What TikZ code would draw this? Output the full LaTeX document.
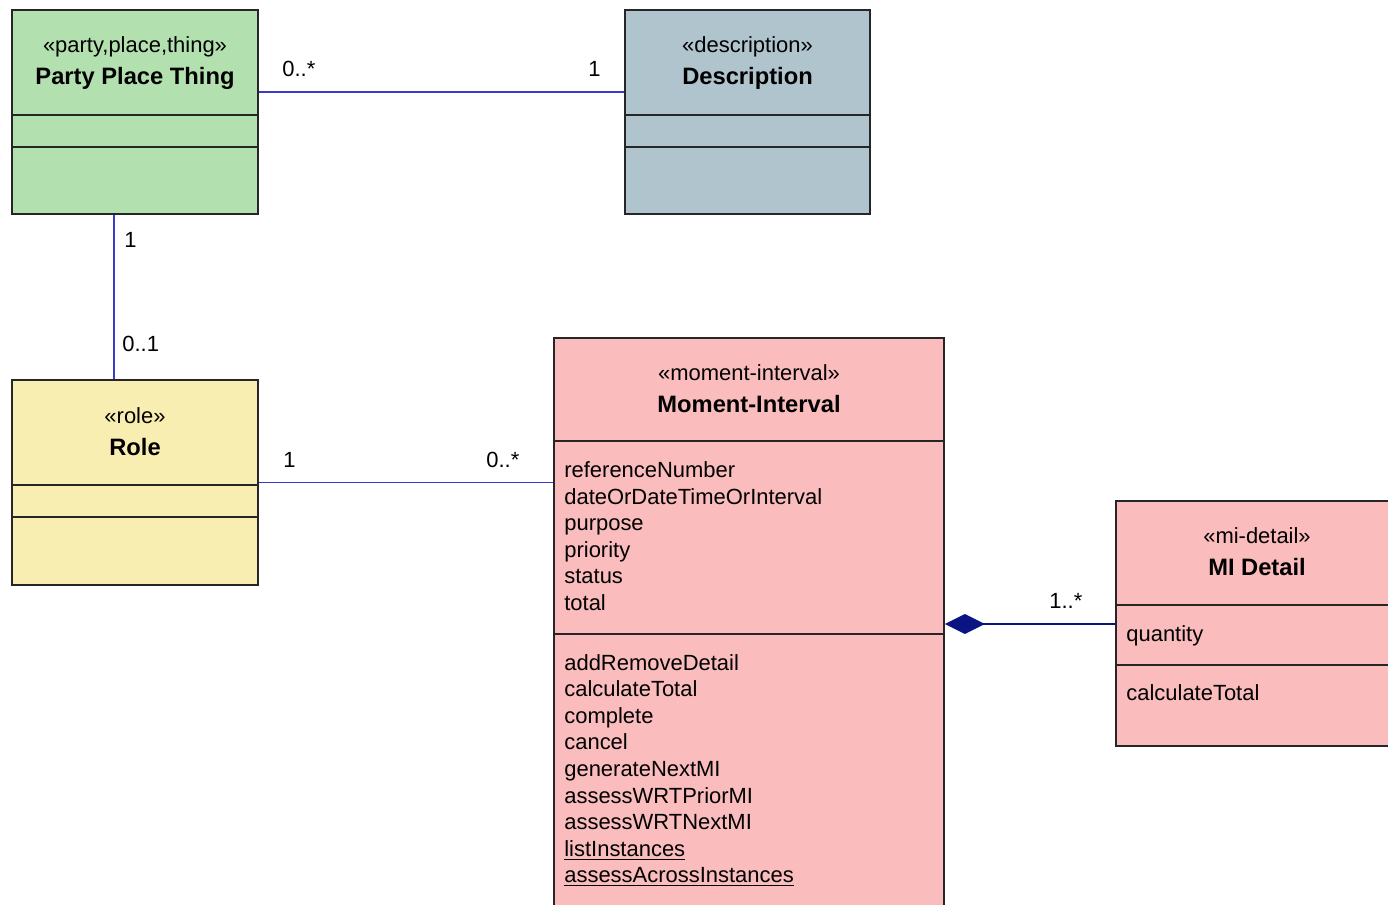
\documentclass[tikz,border=0pt]{standalone}
\usepackage{fontspec}
\setmainfont{Liberation Sans}
\usepackage{xcolor}
\usetikzlibrary{arrows.meta,positioning}
\definecolor{pptgreen}{RGB}{178,224,174}
\definecolor{descblue}{RGB}{176,196,205}
\definecolor{roleyellow}{RGB}{249,238,178}
\definecolor{mipink}{RGB}{250,188,188}
\definecolor{assocblue}{RGB}{58,58,205}
\definecolor{compnavy}{RGB}{10,20,130}

\begin{document}
\begin{tikzpicture}[x=0.02cm, y=-0.02cm,
  every node/.style={font=\fontsize{12.5}{15}\selectfont, inner sep=0pt},
  cls/.style={draw=black!85, line width=1.1pt},
  sep/.style={draw=black!85, line width=1.1pt},
  stereo/.style={anchor=base},
  cname/.style={anchor=base, font=\fontsize{13.5}{16}\selectfont\bfseries},
  item/.style={anchor=base west},
  mult/.style={anchor=base west},
  assoc/.style={draw=assocblue, line width=1.1pt},
  comp/.style={draw=compnavy, line width=1.1pt, {Diamond[length=0.8cm,width=0.4cm,fill=compnavy]}-}]
  \clip (0,0) rectangle (1388,905);
  \fill[white] (0,0) rectangle (1388,905);

  % class boxes
  \node[cls, fill=pptgreen, minimum width=4.92cm, minimum height=4.08cm] (ppt) at (135,112) {};
  \node[cls, fill=descblue, minimum width=4.9cm, minimum height=4.08cm] (desc) at (747.5,112) {};
  \node[cls, fill=roleyellow, minimum width=4.92cm, minimum height=4.1cm] (role) at (135,482.5) {};
  \node[cls, fill=mipink, minimum width=7.8cm, minimum height=11.44cm] (mi) at (749,624) {};
  \node[cls, fill=mipink, minimum width=5.64cm, minimum height=4.9cm] (mid) at (1257,623.5) {};

  % compartments
  \draw[sep] (ppt.west |- 0,115) -- (ppt.east |- 0,115);
  \draw[sep] (ppt.west |- 0,147) -- (ppt.east |- 0,147);
  \draw[sep] (desc.west |- 0,115) -- (desc.east |- 0,115);
  \draw[sep] (desc.west |- 0,147) -- (desc.east |- 0,147);
  \draw[sep] (role.west |- 0,485) -- (role.east |- 0,485);
  \draw[sep] (role.west |- 0,517) -- (role.east |- 0,517);
  \draw[sep] (mi.west |- 0,441) -- (mi.east |- 0,441);
  \draw[sep] (mi.west |- 0,634) -- (mi.east |- 0,634);
  \draw[sep] (mid.west |- 0,605) -- (mid.east |- 0,605);
  \draw[sep] (mid.west |- 0,665) -- (mid.east |- 0,665);

  % headers
  \node[stereo] (pptst) at (135,53) {«party,place,thing»};
  \node[cname] (pptnm) at (135,85) {Party Place Thing};
  \node[stereo] (descst) at (747.5,53) {«description»};
  \node[cname] (descnm) at (747.5,85) {Description};
  \node[stereo] (rolest) at (135,423) {«role»};
  \node[cname] (rolenm) at (135,455) {Role};
  \node[stereo] (mist) at (749,380) {«moment-interval»};
  \node[cname] (minm) at (749,412) {Moment-Interval};
  \node[stereo] (midst) at (1257,543) {«mi-detail»};
  \node[cname] (midnm) at (1257,575) {MI Detail};

  % attributes and operations
  \foreach \t [count=\i from 0] in {referenceNumber, dateOrDateTimeOrInterval, purpose, priority, status, total}
    \node[item] (miattr\i) at (564,477.5+26.6*\i) {\t};
  \foreach \t [count=\i from 0] in {addRemoveDetail, calculateTotal, complete, cancel, generateNextMI,
      assessWRTPriorMI, assessWRTNextMI, {\underline{listInstances}}, {\underline{assessAcrossInstances}}}
    \node[item] (miop\i) at (564,670+26.6*\i) {\t};
  \node[item] (midattr) at (1126,641.5) {quantity};
  \node[item] (midop) at (1126,700.5) {calculateTotal};

  % associations
  \draw[assoc] ([yshift=0.4cm]ppt.east) -- ([yshift=0.4cm]desc.west);
  \draw[assoc] ([xshift=-0.42cm]ppt.south) -- ([xshift=-0.42cm]role.north);
  \draw[assoc] (role.east) -- (role.east -| mi.west);
  \draw[comp] (mi.east) -- (mi.east -| mid.west);

  % multiplicities
  \node[mult] (m1) at (282,77) {0..*};
  \node[mult] (m2) at (588,77) {1};
  \node[mult] (m3) at (124,248) {1};
  \node[mult] (m4) at (122,351) {0..1};
  \node[mult] (m5) at (283,467) {1};
  \node[mult] (m6) at (486,467) {0..*};
  \node[mult] (m7) at (1049,608) {1..*};
\end{tikzpicture}
\end{document}
